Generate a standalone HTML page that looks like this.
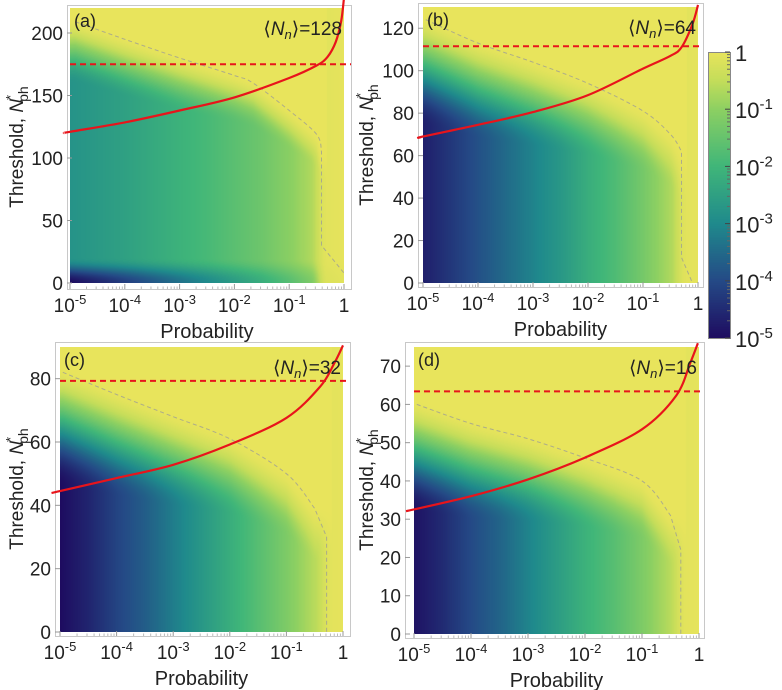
<!DOCTYPE html>
<html><head><meta charset="utf-8">
<style>
body{margin:0;background:#fff;}
#wrap{position:relative;width:782px;height:690px;overflow:hidden;background:#fff;}
canvas{position:absolute;}
svg{position:absolute;left:0;top:0;}
text{font-family:"Liberation Sans","DejaVu Sans",sans-serif;fill:#222;}
</style></head>
<body>
<div id="wrap">
<canvas id="ca"></canvas>
<canvas id="cb"></canvas>
<canvas id="cc"></canvas>
<canvas id="cd"></canvas>
<canvas id="cbar"></canvas>
<svg id="ov" width="782" height="690" xmlns="http://www.w3.org/2000/svg"></svg>
</div>
<script>
// ---- data ----
const colLp = [-5,-4.5,-4,-3.5,-3,-2.5,-2,-1.5,-1,-0.5,0];
const baseA = [-2.8,-2.65,-2.5,-2.3,-2.1,-1.9,-1.65,-1.4,-1.05,-0.6,-0.15];
const lowA  = [-5,-4.6,-4.2,-3.8,-3.4,-3,-2.6,-2.2,-1.7,-1.1,-0.4];
const baseB = [-4.7,-4.3,-3.9,-3.5,-3.1,-2.7,-2.2,-1.8,-1.3,-0.7,-0.2];
const baseC = [-5,-4.6,-4.1,-3.7,-3.2,-2.7,-2.2,-1.7,-1.2,-0.6,-0.15];
const baseD = [-4.9,-4.5,-4.0,-3.6,-3.1,-2.6,-2.1,-1.7,-1.2,-0.6,-0.15];
const dashLpA = [-4.9,-4,-3,-2,-1.66,-1,-0.5,-0.41,-0.41,0];
const dashYA  = [209,195,180,166,160,138,119,105,30,8];
const dashLpB = [-4.95,-4,-3,-2,-1,-0.5,-0.3,-0.3,-0.1];
const dashYB  = [124,113,104,94,81,70,62,12,0];
const dashLpC = [-4.95,-4,-3,-2,-1,-0.5,-0.29,-0.29];
const dashYC  = [82,75,68,61,50,39,30,0];
const dashLpD = [-4.95,-4,-3,-2,-1,-0.5,-0.32,-0.32];
const dashYD  = [60,55,51,46,40,31,22,0];
const curveLpA = [-5.1,-5,-4,-3,-2,-1,-0.5,-0.3,-0.15,-0.05,0];
const curveYA  = [120,121,128.5,138,148.5,164,174,181,193,210,228];
const curveLpB = [-5.05,-5,-4,-3,-2,-1,-0.5,-0.3,-0.1,0];
const curveYB  = [68.5,69,74.5,80.5,88.5,101,107,111,122,131];
const curveLpC = [-5.15,-5,-4,-3,-2,-1,-0.4,-0.15,0];
const curveYC  = [43.9,44.5,48.6,52.8,59.2,67.6,77.6,85,90.5];
const curveLpD = [-5.14,-4,-3,-2,-1,-0.4,-0.15,-0.02];
const curveYD  = [32.1,36,40.4,46.1,53.5,62.3,71,76];
const refY = [175,111.5,79.3,63.4];
const meanN = ["128","64","32","16"];
const panelTags = ["(a)","(b)","(c)","(d)"];
const yTicksA = [0,50,100,150,200];
const yTicksB = [0,20,40,60,80,100,120];
const yTicksC = [0,20,40,60,80];
const yTicksD = [0,10,20,30,40,50,60,70];
const xTickExp = [-5,-4,-3,-2,-1,0];
const cbarExp = [0,-1,-2,-3,-4,-5];

// ---- geometry ----
const panels = [
 {id:'a',cv:'ca',hx0:70,hx1:344,top:8,bot:283,ymax:220,frame:[67,5,351,289],base:baseA,low:lowA,lowY:20,W:50,dl:dashLpA,dy:dashYA,cl:curveLpA,cy:curveYA,yt:yTicksA,ylx:16},
 {id:'b',cv:'cb',hx0:423,hx1:698,top:7,bot:283,ymax:130,frame:[418,3,703,287],base:baseB,low:null,lowY:0,W:50,dl:dashLpB,dy:dashYB,cl:curveLpB,cy:curveYB,yt:yTicksB,ylx:366},
 {id:'c',cv:'cc',hx0:60,hx1:343,top:347,bot:632,ymax:90,frame:[55,342,350,636],base:baseC,low:null,lowY:0,W:36,dl:dashLpC,dy:dashYC,cl:curveLpC,cy:curveYC,yt:yTicksC,ylx:16},
 {id:'d',cv:'cd',hx0:414,hx1:699,top:347,bot:634,ymax:75,frame:[405,342,704,638],base:baseD,low:null,lowY:0,W:28,dl:dashLpD,dy:dashYD,cl:curveLpD,cy:curveYD,yt:yTicksD,ylx:366}
];
const stops=[[0,[30,12,96]],[0.2,[36,74,134]],[0.4,[31,138,140]],[0.6,[64,182,121]],[0.8,[141,208,98]],[0.9,[196,221,90]],[1,[232,228,92]]];
function cmap(v){
  let t=Math.max(0,Math.min(1,(v+5)/5));
  for(let i=1;i<stops.length;i++){ if(t<=stops[i][0]){const a=stops[i-1],b=stops[i];const f=(t-a[0])/(b[0]-a[0]);
    return [0,1,2].map(k=>Math.round(a[1][k]+(b[1][k]-a[1][k])*f));}}
  return stops[stops.length-1][1];
}
function interp(xs,ys,x){
  if(x<=xs[0])return ys[0]; const n=xs.length; if(x>=xs[n-1])return ys[n-1];
  for(let i=1;i<n;i++){ if(x<=xs[i]){const d=xs[i]-xs[i-1]; if(d===0)return ys[i-1]; return ys[i-1]+(ys[i]-ys[i-1])*(x-xs[i-1])/d;}}
  return ys[n-1];
}
function smooth(e0,e1,x){let t=Math.max(0,Math.min(1,(x-e0)/(e1-e0)));return t*t*(3-2*t);}
function crPath(pts){
  let d='M'+pts[0][0].toFixed(1)+','+pts[0][1].toFixed(1);
  for(let i=0;i<pts.length-1;i++){
    const p0=pts[Math.max(0,i-1)],p1=pts[i],p2=pts[i+1],p3=pts[Math.min(pts.length-1,i+2)];
    const c1=[p1[0]+(p2[0]-p0[0])/6,p1[1]+(p2[1]-p0[1])/6];
    const c2=[p2[0]-(p3[0]-p1[0])/6,p2[1]-(p3[1]-p1[1])/6];
    d+=' C'+c1[0].toFixed(1)+','+c1[1].toFixed(1)+' '+c2[0].toFixed(1)+','+c2[1].toFixed(1)+' '+p2[0].toFixed(1)+','+p2[1].toFixed(1);
  }
  return d;
}
const NS='http://www.w3.org/2000/svg';
const svg=document.getElementById('ov');
function el(tag,attrs,parent){const e=document.createElementNS(NS,tag);for(const k in attrs)e.setAttribute(k,attrs[k]);(parent||svg).appendChild(e);return e;}

panels.forEach((p,pi)=>{
  const W=p.hx1-p.hx0, H=p.bot-p.top;
  const sx=lp=>p.hx0+(lp+5)/5*W;
  const sy=v=>p.bot-v/p.ymax*H;
  const lpV=p.dl[p.dl.length-2];
  const cv=document.getElementById(p.cv);
  cv.width=W;cv.height=H;cv.style.left=p.hx0+'px';cv.style.top=p.top+'px';
  const ctx=cv.getContext('2d');const img=ctx.createImageData(W,H);
  const dlx=p.dl.slice(0,-2), dly=p.dy.slice(0,-2);
  const b0=Math.abs(p.base[0]);
  for(let i=0;i<W;i++){
    const lp=-5+(i+0.5)/W*5;
    const b=interp(colLp,p.base,lp);
    const lo=p.low?interp(colLp,p.low,lp):b;
    const yb=interp(dlx,dly,lp);
    const Weff=p.W*(0.4+0.6*Math.min(1,Math.abs(b)/b0));
    const hs=1-0.8*smooth(lpV-0.2,lpV+0.1,lp);
    for(let j=0;j<H;j++){
      const yv=(H-j-0.5)/H*p.ymax;
      let base=b;
      if(p.low){const f=smooth(0,p.lowY,yv);base=lo+(b-lo)*f;}
      const s=(lp<lpV+0.1)?smooth(yb-Weff,yb+Weff*0.05,yv):0;
      const v=base*(1-s)*hs;
      const c=cmap(v);const o=(j*W+i)*4;
      img.data[o]=c[0];img.data[o+1]=c[1];img.data[o+2]=c[2];img.data[o+3]=255;
    }
  }
  ctx.putImageData(img,0,0);
  const g=el('g',{});
  
  
  const f=p.frame;
  const fr=el('rect',{x:f[0]+0.5,y:f[1]+0.5,width:f[2]-f[0],height:f[3]-f[1],fill:'none',stroke:'#c8c8c8','stroke-width':1},g);
  
  
  xTickExp.forEach(e=>{
    const x=sx(e);
    el('line',{x1:x,x2:x,y1:f[3],y2:f[3]-5,stroke:'#999'},g);
    for(let m=2;m<10&&e<0;m++){const xm=sx(e+Math.log10(m));el('line',{x1:xm,x2:xm,y1:f[3],y2:f[3]-2.5,stroke:'#bbb'},g);}
    const t=el('text',{x:x,y:f[3]+23,'font-size':19,'text-anchor':'middle'},g);
    
    
    if(e===0){t.textContent='1';}else{t.textContent='10';const s=el('tspan',{dy:-8,'font-size':13},t);s.textContent=String(e);}
  });
  p.yt.forEach(v=>{
    const y=sy(v);
    el('line',{x1:f[0],x2:f[0]+5,y1:y,y2:y,stroke:'#999'},g);
    const t=el('text',{x:f[0]-4,y:y+7,'font-size':19,'text-anchor':'end'},g);
    
    
    t.textContent=String(v);
  });
  const xt=el('text',{x:(p.hx0+p.hx1)/2,y:f[3]+49,'font-size':20,'text-anchor':'middle'},g);
  
  
  xt.textContent='Probability';
  const cyM=(f[1]+f[3])/2;
  const yt=el('text',{x:p.ylx,y:cyM,'font-size':19,'text-anchor':'middle',transform:'rotate(-90 '+p.ylx+' '+cyM+')',dy:7},g);
  
  
  yt.appendChild(document.createTextNode('Threshold, '));
  const tn=el('tspan',{'font-style':'italic'},yt);tn.textContent='N';
  const ts=el('tspan',{dy:-8,'font-size':13,dx:-1},yt);ts.textContent='*';
  const tp=el('tspan',{dy:13,'font-size':14,dx:-7},yt);tp.textContent='ph';
  const dp=p.dl.map((l,i)=>[sx(l),sy(p.dy[i])]);
  const dl=el('path',{d:crPath(dp.slice(0,-2))+' L'+dp.slice(-2).map(q=>q[0].toFixed(1)+','+q[1].toFixed(1)).join(' L'),fill:'none',stroke:'#9a9a9a','stroke-width':1,'stroke-dasharray':'4,3',opacity:0.75},g);
  
  
  const ry=sy(refY[pi]);
  const rl=el('line',{x1:p.hx0,x2:f[2],y1:ry,y2:ry,stroke:'#e8141b','stroke-width':2,'stroke-dasharray':'6,4'},g);
  
  
  const cp=p.cl.map((l,i)=>[sx(l),sy(p.cy[i])]);
  const cl=el('path',{d:crPath(cp),fill:'none',stroke:'#e8141b','stroke-width':2.2,'stroke-linejoin':'round'},g);
  
  
  const tg=el('text',{x:p.hx0+4,y:p.top+19,'font-size':18},g);
  
  
  tg.textContent=panelTags[pi];
  const mn=el('text',{x:p.hx1-2,y:p.top+27,'font-size':19,'text-anchor':'end'},g);
  
  
  mn.appendChild(document.createTextNode('\u27E8'));
  const mi=el('tspan',{'font-style':'italic'},mn);mi.textContent='N';
  const ms=el('tspan',{'font-style':'italic','font-size':13,dy:4},mn);ms.textContent='n';
  const mr=el('tspan',{dy:-4},mn);mr.textContent='\u27E9=' + meanN[pi];
});

(function(){
  const x0=708,x1=730,y0=52,y1=338;
  const cv=document.getElementById('cbar');
  cv.width=x1-x0;cv.height=y1-y0;cv.style.left=x0+'px';cv.style.top=y0+'px';
  const ctx=cv.getContext('2d');
  for(let j=0;j<y1-y0;j++){const v=-(j+0.5)/(y1-y0)*5;const c=cmap(v);ctx.fillStyle='rgb('+c.join(',')+')';ctx.fillRect(0,j,x1-x0,1);}
  const g=el('g',{});
  
  
  const r=el('rect',{x:x0+0.5,y:y0+0.5,width:x1-x0,height:y1-y0,fill:'none',stroke:'#888'},g);
  
  
  const sy=e=>y0+(-e)/5*(y1-y0);
  cbarExp.forEach(e=>{
    const y=sy(e);
    el('line',{x1:x1-5,x2:x1,y1:y,y2:y,stroke:'#444'},g);
    if(e>-5)for(let m=2;m<10;m++){const ym=sy(e-1+Math.log10(m));el('line',{x1:x1-3,x2:x1,y1:ym,y2:ym,stroke:'#666'},g);}
    const t=el('text',{x:735,y:y+9,'font-size':22},g);
    
    
    if(e===0)t.textContent='1';else{t.textContent='10';const s=el('tspan',{dy:-9,'font-size':15},t);s.textContent=String(e);}
  });
})();
</script>
</body></html>
